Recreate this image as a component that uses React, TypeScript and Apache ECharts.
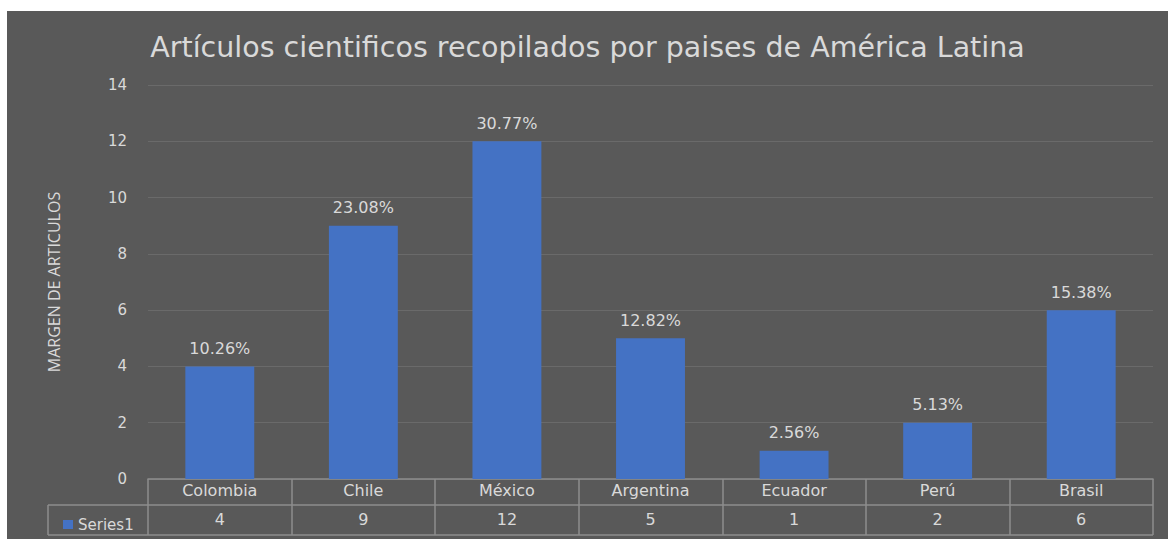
import React, { useEffect, useRef } from "react";
import * as echarts from "echarts";

const categories = ["Colombia", "Chile", "México", "Argentina", "Ecuador", "Perú", "Brasil"];
const values = [4, 9, 12, 5, 1, 2, 6];
const seriesName = "Series1";
const titleText = "Artículos cientificos recopilados por paises de América Latina";
const yAxisName = "MARGEN DE ARTICULOS";

const W = 1161;
const H = 528;
const FONT = "'DejaVu Sans', sans-serif";
const NAME_FONT = "'Open Sans', sans-serif";
const TXT = "#d9d9d9";
const LINE = "#8e8e8e";

export default function App() {
  const ref = useRef<HTMLDivElement>(null);
  useEffect(() => {
    if (!ref.current) return;
    const chart = echarts.init(ref.current, null, { renderer: "svg" });
    const total = values.reduce((a, b) => a + b, 0);
    const gridLeft = 141;
    const gridRight = 15;
    const tableLeft = 41;
    const tableRight = W - gridRight;
    chart.setOption({
      animation: false,
      backgroundColor: "#595959",
      textStyle: { fontFamily: FONT },
      title: {
        text: titleText,
        left: "center",
        top: 17,
        textStyle: { color: TXT, fontSize: 28.5, fontWeight: "normal", fontFamily: FONT },
      },
      legend: {
        data: [seriesName],
        left: 51,
        top: 501,
        icon: "rect",
        itemWidth: 10,
        itemHeight: 9,
        itemGap: 4,
        textStyle: { color: TXT, fontSize: 15, fontFamily: FONT },
      },
      grid: { left: gridLeft, right: gridRight, top: 74, bottom: 60 },
      xAxis: {
        type: "category",
        data: categories,
        axisLine: { show: true, lineStyle: { color: LINE, width: 1.5 } },
        axisTick: { show: true, length: 56, lineStyle: { color: LINE, width: 1.5 } },
        axisLabel: {
          margin: -3,
          interval: 0,
          formatter: (v: string, i: number) => `{c|${v}}\n{v|${values[i]}}`,
          rich: {
            c: { color: TXT, fontSize: 16, lineHeight: 29, fontFamily: FONT },
            v: { color: TXT, fontSize: 16, lineHeight: 29, fontFamily: FONT },
          },
        },
      },
      yAxis: {
        type: "value",
        min: 0,
        max: 14,
        interval: 2,
        name: yAxisName,
        nameLocation: "middle",
        nameGap: 86,
        nameTextStyle: { color: TXT, fontSize: 16, fontFamily: NAME_FONT },
        axisLine: { show: false },
        axisTick: { show: false },
        axisLabel: { color: TXT, fontSize: 15, margin: 21, fontFamily: FONT },
        splitLine: { lineStyle: { color: "#6a6a6a", width: 1 } },
      },
      series: [
        {
          name: seriesName,
          type: "bar",
          data: values,
          barWidth: "48%",
          itemStyle: { color: "#4472C4" },
          label: {
            show: true,
            position: "top",
            distance: 10,
            color: TXT,
            fontSize: 16,
            fontFamily: FONT,
            formatter: (p: any) => ((p.value / total) * 100).toFixed(2) + "%",
          },
        },
      ],
      graphic: [
        { type: "line", shape: { x1: tableLeft, y1: 494, x2: tableRight, y2: 494 }, style: { stroke: LINE, lineWidth: 1.5 } },
        { type: "line", shape: { x1: tableLeft, y1: 524, x2: tableRight, y2: 524 }, style: { stroke: LINE, lineWidth: 1.5 } },
        { type: "line", shape: { x1: tableLeft, y1: 494, x2: tableLeft, y2: 524 }, style: { stroke: LINE, lineWidth: 1.5 } },
      ],
    });
    return () => chart.dispose();
  }, []);
  return (
    <div style={{ position: "fixed", left: 0, top: 0, width: 1169, height: 539, background: "#fff" }}>
      <div ref={ref} style={{ position: "absolute", left: 7, top: 11, width: W, height: H }} />
    </div>
  );
}
